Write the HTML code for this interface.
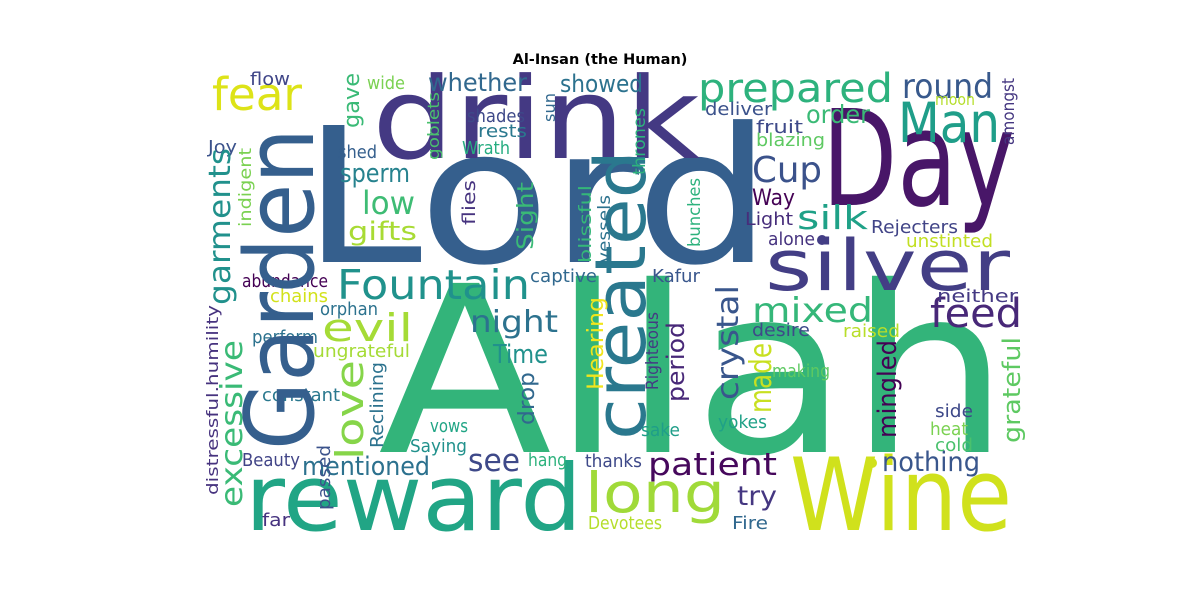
<!DOCTYPE html>
<html><head><meta charset="utf-8"><style>
html,body{margin:0;padding:0;background:#fff;}
svg text{font-family:"DejaVu Sans","Liberation Sans",sans-serif;}
</style></head><body>
<svg width="1200" height="600" viewBox="0 0 1200 600" xmlns="http://www.w3.org/2000/svg">
<text x="600" y="64" text-anchor="middle" font-size="14.5" font-weight="bold" fill="#000">Al-Insan (the Human)</text>
<g>
<text x="378" y="452" font-size="232" textLength="632" lengthAdjust="spacingAndGlyphs" fill="#33b47a">Allah</text>
<text x="302" y="262" font-size="188" textLength="470" lengthAdjust="spacingAndGlyphs" fill="#355f8d">Lord</text>
<text x="822" y="205" font-size="133" textLength="193" lengthAdjust="spacingAndGlyphs" fill="#481668">Day</text>
<text x="372" y="158" font-size="113" textLength="328" lengthAdjust="spacingAndGlyphs" fill="#443983">drink</text>
<text x="245" y="530" font-size="92" textLength="337" lengthAdjust="spacingAndGlyphs" fill="#21a585">reward</text>
<text x="790" y="530" font-size="101" textLength="222" lengthAdjust="spacingAndGlyphs" fill="#d0e11c">Wine</text>
<text x="765" y="290" font-size="70" textLength="245" lengthAdjust="spacingAndGlyphs" fill="#433e85">silver</text>
<text x="698" y="102" font-size="40" textLength="195" lengthAdjust="spacingAndGlyphs" fill="#2db27d">prepared</text>
<text x="898" y="142" font-size="55" textLength="102" lengthAdjust="spacingAndGlyphs" fill="#1f9e89">Man</text>
<text x="902" y="98" font-size="34" textLength="91" lengthAdjust="spacingAndGlyphs" fill="#38598c">round</text>
<text x="212" y="110" font-size="45" textLength="90" lengthAdjust="spacingAndGlyphs" fill="#dde318">fear</text>
<text x="337" y="299" font-size="41" textLength="193" lengthAdjust="spacingAndGlyphs" fill="#20928c">Fountain</text>
<text x="752" y="182" font-size="36" textLength="70" lengthAdjust="spacingAndGlyphs" fill="#3b528b">Cup</text>
<text x="752" y="322" font-size="34" textLength="121" lengthAdjust="spacingAndGlyphs" fill="#35b779">mixed</text>
<text x="930" y="327" font-size="40" textLength="92" lengthAdjust="spacingAndGlyphs" fill="#482878">feed</text>
<text x="322" y="341" font-size="38" textLength="91" lengthAdjust="spacingAndGlyphs" fill="#a5db36">evil</text>
<text x="470" y="332" font-size="30" textLength="88" lengthAdjust="spacingAndGlyphs" fill="#2c728e">night</text>
<text x="648" y="475" font-size="31" textLength="129" lengthAdjust="spacingAndGlyphs" fill="#46085c">patient</text>
<text x="585" y="512" font-size="55" textLength="140" lengthAdjust="spacingAndGlyphs" fill="#a0da39">long</text>
<text x="882" y="471" font-size="27" textLength="98" lengthAdjust="spacingAndGlyphs" fill="#39568c">nothing</text>
<text x="468" y="471" font-size="31" textLength="52" lengthAdjust="spacingAndGlyphs" fill="#3e4989">see</text>
<text x="302" y="475" font-size="26" textLength="128" lengthAdjust="spacingAndGlyphs" fill="#2c718e">mentioned</text>
<text x="493" y="363" font-size="26" textLength="55" lengthAdjust="spacingAndGlyphs" fill="#21918c">Time</text>
<text x="737" y="505" font-size="27" textLength="40" lengthAdjust="spacingAndGlyphs" fill="#453781">try</text>
<text x="362" y="214" font-size="32" textLength="53" lengthAdjust="spacingAndGlyphs" fill="#3ebc74">low</text>
<text x="348" y="240" font-size="26" textLength="69" lengthAdjust="spacingAndGlyphs" fill="#a8db34">gifts</text>
<text x="340" y="182" font-size="26" textLength="70" lengthAdjust="spacingAndGlyphs" fill="#26828e">sperm</text>
<text x="428" y="91" font-size="25" textLength="99" lengthAdjust="spacingAndGlyphs" fill="#31688e">whether</text>
<text x="560" y="92" font-size="24" textLength="83" lengthAdjust="spacingAndGlyphs" fill="#2c728e">showed</text>
<text x="806" y="123" font-size="25" textLength="64" lengthAdjust="spacingAndGlyphs" fill="#3aba76">order</text>
<text x="705" y="115" font-size="18" textLength="67" lengthAdjust="spacingAndGlyphs" fill="#3b528b">deliver</text>
<text x="756" y="133" font-size="18" textLength="47" lengthAdjust="spacingAndGlyphs" fill="#3e4989">fruit</text>
<text x="756" y="146" font-size="18" textLength="69" lengthAdjust="spacingAndGlyphs" fill="#5ec962">blazing</text>
<text x="935" y="105" font-size="16" textLength="40" lengthAdjust="spacingAndGlyphs" fill="#b5de2b">moon</text>
<text x="752" y="205" font-size="22" textLength="43" lengthAdjust="spacingAndGlyphs" fill="#440154">Way</text>
<text x="797" y="229" font-size="33" textLength="71" lengthAdjust="spacingAndGlyphs" fill="#1fa187">silk</text>
<text x="745" y="225" font-size="18" textLength="48" lengthAdjust="spacingAndGlyphs" fill="#472d7b">Light</text>
<text x="871" y="233" font-size="18" textLength="87" lengthAdjust="spacingAndGlyphs" fill="#414487">Rejecters</text>
<text x="768" y="245" font-size="18" textLength="47" lengthAdjust="spacingAndGlyphs" fill="#46337f">alone</text>
<circle cx="822" cy="240" r="5" fill="#433e85"/>
<text x="906" y="247" font-size="18" textLength="87" lengthAdjust="spacingAndGlyphs" fill="#c2df23">unstinted</text>
<text x="652" y="282" font-size="18" textLength="48" lengthAdjust="spacingAndGlyphs" fill="#39568c">Kafur</text>
<text x="937" y="302" font-size="18" textLength="81" lengthAdjust="spacingAndGlyphs" fill="#443983">neither</text>
<text x="752" y="336" font-size="18" textLength="58" lengthAdjust="spacingAndGlyphs" fill="#3e4a89">desire</text>
<text x="843" y="337" font-size="18" textLength="57" lengthAdjust="spacingAndGlyphs" fill="#b8de29">raised</text>
<text x="772" y="377" font-size="18" textLength="58" lengthAdjust="spacingAndGlyphs" fill="#5ec962">making</text>
<text x="935" y="417" font-size="18" textLength="38" lengthAdjust="spacingAndGlyphs" fill="#3e4989">side</text>
<text x="930" y="435" font-size="18" textLength="38" lengthAdjust="spacingAndGlyphs" fill="#7ad151">heat</text>
<text x="935" y="451" font-size="18" textLength="38" lengthAdjust="spacingAndGlyphs" fill="#4ac16d">cold</text>
<text x="718" y="428" font-size="18" textLength="49" lengthAdjust="spacingAndGlyphs" fill="#1fa187">yokes</text>
<text x="641" y="436" font-size="18" textLength="39" lengthAdjust="spacingAndGlyphs" fill="#1f9e89">sake</text>
<text x="585" y="467" font-size="18" textLength="57" lengthAdjust="spacingAndGlyphs" fill="#3e4989">thanks</text>
<text x="732" y="529" font-size="18" textLength="36" lengthAdjust="spacingAndGlyphs" fill="#31688e">Fire</text>
<text x="588" y="529" font-size="18" textLength="74" lengthAdjust="spacingAndGlyphs" fill="#b5de2b">Devotees</text>
<text x="410" y="452" font-size="18" textLength="57" lengthAdjust="spacingAndGlyphs" fill="#21918c">Saying</text>
<text x="430" y="432" font-size="18" textLength="38" lengthAdjust="spacingAndGlyphs" fill="#21a585">vows</text>
<text x="528" y="466" font-size="18" textLength="39" lengthAdjust="spacingAndGlyphs" fill="#2db27d">hang</text>
<text x="242" y="466" font-size="18" textLength="58" lengthAdjust="spacingAndGlyphs" fill="#414487">Beauty</text>
<text x="262" y="526" font-size="18" textLength="28" lengthAdjust="spacingAndGlyphs" fill="#46337f">far</text>
<text x="262" y="401" font-size="18" textLength="78" lengthAdjust="spacingAndGlyphs" fill="#2a788e">constant</text>
<text x="252" y="343" font-size="18" textLength="66" lengthAdjust="spacingAndGlyphs" fill="#2c728e">perform</text>
<text x="313" y="357" font-size="18" textLength="97" lengthAdjust="spacingAndGlyphs" fill="#a5db36">ungrateful</text>
<text x="320" y="315" font-size="18" textLength="58" lengthAdjust="spacingAndGlyphs" fill="#2c728e">orphan</text>
<text x="270" y="302" font-size="18" textLength="58" lengthAdjust="spacingAndGlyphs" fill="#d2e21b">chains</text>
<text x="242" y="287" font-size="18" textLength="86" lengthAdjust="spacingAndGlyphs" fill="#440154">abundance</text>
<text x="530" y="282" font-size="18" textLength="67" lengthAdjust="spacingAndGlyphs" fill="#31688e">captive</text>
<text x="338" y="158" font-size="18" textLength="39" lengthAdjust="spacingAndGlyphs" fill="#355f8d">shed</text>
<text x="208" y="153" font-size="18" textLength="29" lengthAdjust="spacingAndGlyphs" fill="#3b528b">Joy</text>
<text x="250" y="85" font-size="18" textLength="40" lengthAdjust="spacingAndGlyphs" fill="#404688">flow</text>
<text x="367" y="89" font-size="18" textLength="38" lengthAdjust="spacingAndGlyphs" fill="#7ad151">wide</text>
<text x="467" y="122" font-size="18" textLength="58" lengthAdjust="spacingAndGlyphs" fill="#3e4989">shades</text>
<text x="478" y="137" font-size="18" textLength="49" lengthAdjust="spacingAndGlyphs" fill="#2a788e">rests</text>
<text x="462" y="154" font-size="18" textLength="48" lengthAdjust="spacingAndGlyphs" fill="#27ad81">Wrath</text>
<circle cx="872" cy="463" r="5" fill="#d0e11c"/>

<text transform="translate(313,450) rotate(-90)" font-size="95" textLength="322" lengthAdjust="spacingAndGlyphs" fill="#355f8d">Garden</text>
<text transform="translate(645,440) rotate(-90)" font-size="70" textLength="290" lengthAdjust="spacingAndGlyphs" fill="#2a788e">created</text>
<text transform="translate(230,305) rotate(-90)" font-size="30" textLength="157" lengthAdjust="spacingAndGlyphs" fill="#21918c">garments</text>
<text transform="translate(242,507) rotate(-90)" font-size="30" textLength="167" lengthAdjust="spacingAndGlyphs" fill="#3aba76">excessive</text>
<text transform="translate(218,495) rotate(-90)" font-size="16" textLength="190" lengthAdjust="spacingAndGlyphs" fill="#46327e">distressful.humility</text>
<text transform="translate(251,227) rotate(-90)" font-size="17" textLength="79" lengthAdjust="spacingAndGlyphs" fill="#7ad151">indigent</text>
<text transform="translate(359,128) rotate(-90)" font-size="22" textLength="55" lengthAdjust="spacingAndGlyphs" fill="#3aba76">gave</text>
<text transform="translate(439,160) rotate(-90)" font-size="16" textLength="68" lengthAdjust="spacingAndGlyphs" fill="#4ac16d">goblets</text>
<text transform="translate(555,122) rotate(-90)" font-size="16" textLength="29" lengthAdjust="spacingAndGlyphs" fill="#31688e">sun</text>
<text transform="translate(475,225) rotate(-90)" font-size="18" textLength="45" lengthAdjust="spacingAndGlyphs" fill="#46337f">flies</text>
<text transform="translate(533,250) rotate(-90)" font-size="22" textLength="68" lengthAdjust="spacingAndGlyphs" fill="#3aba76">Sight</text>
<text transform="translate(591,263) rotate(-90)" font-size="17" textLength="78" lengthAdjust="spacingAndGlyphs" fill="#35b779">blissful</text>
<text transform="translate(610,263) rotate(-90)" font-size="17" textLength="68" lengthAdjust="spacingAndGlyphs" fill="#2c728e">vessels</text>
<text transform="translate(645,175) rotate(-90)" font-size="17" textLength="67" lengthAdjust="spacingAndGlyphs" fill="#2db27d">thrones</text>
<text transform="translate(700,247) rotate(-90)" font-size="17" textLength="69" lengthAdjust="spacingAndGlyphs" fill="#2db27d">bunches</text>
<text transform="translate(1014,145) rotate(-90)" font-size="17" textLength="67" lengthAdjust="spacingAndGlyphs" fill="#453781">amongst</text>
<text transform="translate(603,390) rotate(-90)" font-size="22" textLength="93" lengthAdjust="spacingAndGlyphs" fill="#f1e51d">Hearing</text>
<text transform="translate(658,390) rotate(-90)" font-size="17" textLength="78" lengthAdjust="spacingAndGlyphs" fill="#443a83">Righteous</text>
<text transform="translate(684,402) rotate(-90)" font-size="24" textLength="80" lengthAdjust="spacingAndGlyphs" fill="#482878">period</text>
<text transform="translate(738,400) rotate(-90)" font-size="30" textLength="115" lengthAdjust="spacingAndGlyphs" fill="#39568c">crystal</text>
<text transform="translate(771,413) rotate(-90)" font-size="30" textLength="70" lengthAdjust="spacingAndGlyphs" fill="#c8e020">made</text>
<text transform="translate(896,438) rotate(-90)" font-size="26" textLength="98" lengthAdjust="spacingAndGlyphs" fill="#440154">mingled</text>
<text transform="translate(1020,443) rotate(-90)" font-size="24" textLength="106" lengthAdjust="spacingAndGlyphs" fill="#5ec962">grateful</text>
<text transform="translate(534,425) rotate(-90)" font-size="22" textLength="53" lengthAdjust="spacingAndGlyphs" fill="#31688e">drop</text>
<text transform="translate(330,510) rotate(-90)" font-size="18" textLength="65" lengthAdjust="spacingAndGlyphs" fill="#3b528b">passed</text>
<text transform="translate(383,448) rotate(-90)" font-size="18" textLength="86" lengthAdjust="spacingAndGlyphs" fill="#2c728e">Reclining</text>
<text transform="translate(363,460) rotate(-90)" font-size="38" textLength="100" lengthAdjust="spacingAndGlyphs" fill="#86d549">love</text>
</g>
</svg>
</body></html>
